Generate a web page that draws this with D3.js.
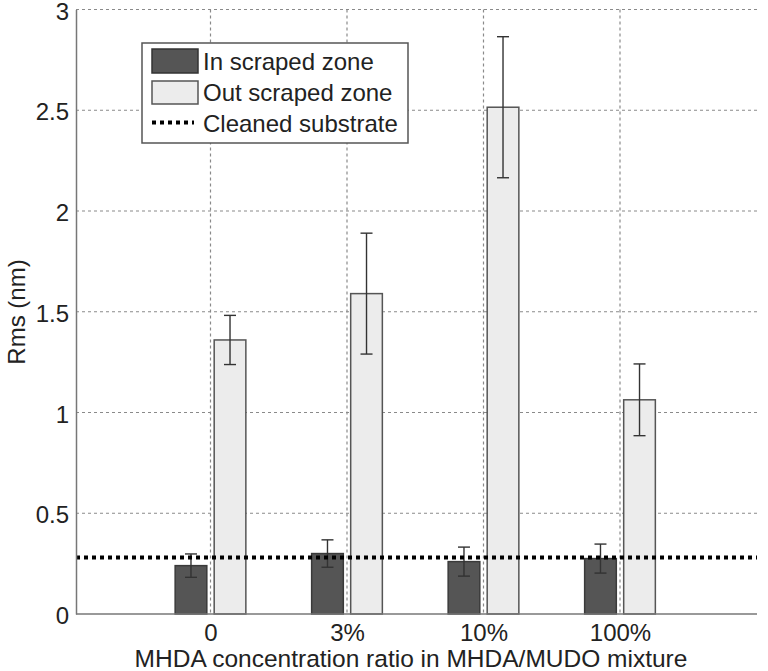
<!DOCTYPE html>
<html><head><meta charset="utf-8">
<script src="https://cdn.jsdelivr.net/npm/d3@7"></script>
<style>body{margin:0;background:#fff}svg{display:block}text{font-family:"Liberation Sans",Arial,sans-serif;fill:#222}</style>
</head><body><svg id="c" width="768" height="671"></svg>
<script>
const categories = ["0", "3%", "10%", "100%"];
const inZone = [0.24, 0.30, 0.26, 0.275];
const inZoneErr = [0.058, 0.068, 0.072, 0.072];
const outZone = [1.36, 1.59, 2.515, 1.063];
const outZoneErr = [0.122, 0.30, 0.35, 0.178];
const cleanedSubstrate = 0.28;
const yTicks = [0, 0.5, 1, 1.5, 2, 2.5, 3];
const yTickLabels = ["0", "0.5", "1", "1.5", "2", "2.5", "3"];
const legendLabels = ["In scraped zone", "Out scraped zone", "Cleaned substrate"];

const svg = d3.select("#c");
const L = 76, R = 757, T = 9.5, B = 614;
const x = d3.scaleLinear().domain([0, 5]).range([L - 2, L - 2 + 5 * 136.5]);
const y = d3.scaleLinear().domain([0, 3]).range([B, T]);
const off = 0.143, bw = 0.232;
const gridCol = "#8a8a8a";

// grid
const g = svg.append("g");
g.selectAll(".hg").data(yTicks.slice(1)).enter().append("line")
  .attr("x1", L).attr("x2", R).attr("y1", d => y(d)).attr("y2", d => y(d))
  .attr("stroke", gridCol).attr("stroke-width", 1.2).attr("stroke-dasharray", "3,3");
g.selectAll(".vg").data(categories).enter().append("line")
  .attr("x1", (d, i) => x(i + 1)).attr("x2", (d, i) => x(i + 1)).attr("y1", T).attr("y2", B)
  .attr("stroke", gridCol).attr("stroke-width", 1.2).attr("stroke-dasharray", "3,3");

// bars
const bars = svg.append("g");
bars.selectAll(".bi").data(inZone).enter().append("rect")
  .attr("x", (d, i) => x(i + 1 - off - bw / 2)).attr("width", x(bw) - x(0))
  .attr("y", d => y(d)).attr("height", d => y(0) - y(d))
  .attr("fill", "#555555").attr("stroke", "#3a3a3a").attr("stroke-width", 1.5);
bars.selectAll(".bo").data(outZone).enter().append("rect")
  .attr("x", (d, i) => x(i + 1 + off - bw / 2)).attr("width", x(bw) - x(0))
  .attr("y", d => y(d)).attr("height", d => y(0) - y(d))
  .attr("fill", "#ececec").attr("stroke", "#555").attr("stroke-width", 1.5);

// error bars
function errbars(vals, errs, sgn) {
  const eg = svg.append("g").attr("stroke", "#333").attr("stroke-width", 1.4);
  vals.forEach((v, i) => {
    const cx = x(i + 1 + sgn * off);
    eg.append("line").attr("x1", cx).attr("x2", cx).attr("y1", y(v - errs[i])).attr("y2", y(v + errs[i]));
    [v - errs[i], v + errs[i]].forEach(e => {
      eg.append("line").attr("x1", cx - 6).attr("x2", cx + 6).attr("y1", y(e)).attr("y2", y(e));
    });
  });
}
errbars(inZone, inZoneErr, -1);
errbars(outZone, outZoneErr, 1);

// cleaned substrate line
svg.append("line").attr("x1", L).attr("x2", R).attr("y1", y(cleanedSubstrate)).attr("y2", y(cleanedSubstrate))
  .attr("stroke", "#000").attr("stroke-width", 4).attr("stroke-dasharray", "4,4");

// axes
const yAxis = d3.axisLeft(y).tickValues(yTicks).tickFormat((d, i) => yTickLabels[i]).tickSize(0).tickPadding(7);
const ya = svg.append("g").attr("transform", `translate(${L},0)`).call(yAxis);
ya.select(".domain").attr("stroke", "#777").attr("stroke-width", 1.5);
ya.selectAll("text").attr("font-size", 24).attr("dy", "0.4em").style("fill", "#222");
const xAxis = d3.axisBottom(x).tickValues([1, 2, 3, 4]).tickFormat((d, i) => categories[i]).tickSize(0).tickPadding(10);
const xa = svg.append("g").attr("transform", `translate(0,${B})`).call(xAxis);
xa.select(".domain").remove();
svg.append("line").attr("x1", L).attr("x2", R).attr("y1", B).attr("y2", B).attr("stroke", "#777").attr("stroke-width", 1.5);
xa.selectAll("text").attr("font-size", 24).style("fill", "#222");

svg.append("text").attr("x", 411).attr("y", 667).attr("text-anchor", "middle").attr("font-size", 24.5)
  .text("MHDA concentration ratio in MHDA/MUDO mixture");
svg.append("text").attr("transform", "translate(25,312) rotate(-90)").attr("text-anchor", "middle").attr("font-size", 24)
  .text("Rms (nm)");

// legend
const lg = svg.append("g");
lg.append("rect").attr("x", 142).attr("y", 43).attr("width", 266).attr("height", 100)
  .attr("fill", "#fff").attr("stroke", "#555").attr("stroke-width", 1.5);
lg.append("rect").attr("x", 152).attr("y", 49).attr("width", 46).attr("height", 24).attr("fill", "#555").attr("stroke", "#333").attr("stroke-width", 1.5);
lg.append("rect").attr("x", 152).attr("y", 81).attr("width", 46).attr("height", 23).attr("fill", "#ececec").attr("stroke", "#555").attr("stroke-width", 1.5);
lg.append("line").attr("x1", 152).attr("x2", 194).attr("y1", 122.5).attr("y2", 122.5).attr("stroke", "#000").attr("stroke-width", 4).attr("stroke-dasharray", "4,4");
lg.selectAll(".lt").data(legendLabels).enter().append("text")
  .attr("x", 203).attr("y", (d, i) => 70 + i * 31).attr("font-size", 24).text(d => d);
</script></body></html>
